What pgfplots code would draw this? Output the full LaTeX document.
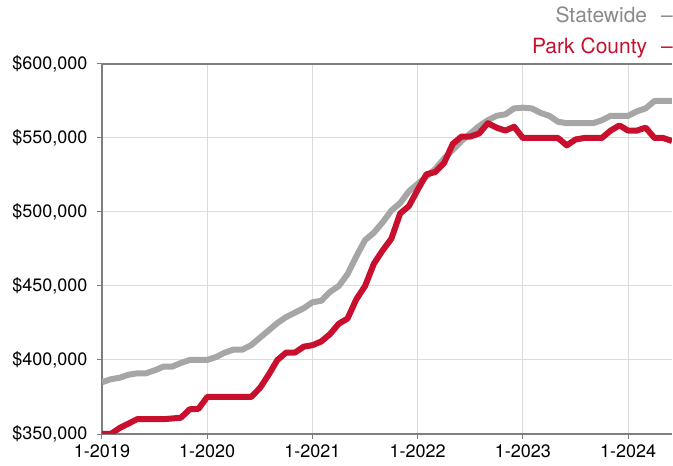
\documentclass[border=0pt]{standalone}
\usepackage{pgfplots}
\pgfplotsset{compat=1.18}
\usepackage{fontspec}
\setmainfont{TeX Gyre Heros}
\definecolor{stategray}{HTML}{A6A6A6}
\definecolor{parkred}{HTML}{C8102E}
\definecolor{legendgray}{HTML}{8A8A8A}
\definecolor{axisgray}{HTML}{7F7F7F}
\definecolor{gridgray}{HTML}{DCDCDC}
\pgfplotstableread{
m state park
0 385 350
1 387 350
2 388 354
3 390 357
4 391 360
5 391 360
6 393 360
7 395.5 360
8 395.5 360.5
9 398 361
10 400 366.7
11 400 367
12 400 375
13 402 375
14 405 375
15 407 375
16 407 375
17 410 375
18 415 381
19 420 390
20 425 400
21 429 405
22 432 405
23 435 409
24 439 410
25 440 412.5
26 446 417.5
27 450 424.5
28 458 428
29 470 441
30 481 450
31 486 465
32 493 474
33 501 482
34 506 499
35 514 504
36 519 515
37 524 525.5
38 529 527
39 536 533
40 542 546
41 548 551
42 553 551
43 558 553
44 562 560
45 565 557
46 566 555
47 570 557.6
48 570.5 550
49 570 550
50 567 550
51 565 550
52 561 550
53 560 545
54 560 549
55 560 550
56 560 550
57 562 550
58 565 555
59 565 558.5
60 565 555
61 568 555
62 570 557
63 575 550
64 575 550
65 575 548
}\datatable
\begin{document}
\begin{tikzpicture}
\begin{axis}[
  at={(0,0)}, anchor=south west,
  scale only axis,
  width=570bp, height=370bp,
  xmin=0, xmax=65,
  ymin=350, ymax=600,
  axis y line=left,
  axis x line=box,
  axis line style={-, draw=axisgray, line width=1.2bp},
  xtick={0,12,24,36,48,60},
  xticklabels={1-2019,1-2020,1-2021,1-2022,1-2023,1-2024},
  ytick={350,400,450,500,550,600},
  yticklabels={{\$350,000},{\$400,000},{\$450,000},{\$500,000},{\$550,000},{\$600,000}},
  tick align=outside,
  xtick pos=bottom, ytick pos=left,
  major tick length=5bp,
  tick style={draw=axisgray, line width=1bp},
  grid=major,
  grid style={draw=gridgray, line width=1bp},
  tick label style={font=\fontsize{18bp}{21bp}\selectfont, text=black},
  xticklabel style={yshift=-2bp},
  yticklabel style={xshift=-6bp},
]
\addplot[stategray, line width=6bp, line join=round] table[x=m, y=state] {\datatable};
\addplot[parkred, line width=6bp, line join=round] table[x=m, y=park] {\datatable};
\end{axis}
\node[anchor=base east, text=legendgray, font=\fontsize{21bp}{25bp}\selectfont, inner sep=0pt] at (571bp,411.3bp) {Statewide\hspace{14bp}–};
\node[anchor=base east, text=parkred, font=\fontsize{21bp}{25bp}\selectfont, inner sep=0pt] at (571bp,380bp) {Park County\hspace{14bp}–};
\pgfresetboundingbox
\useasboundingbox (-102bp,-32bp) rectangle (571bp,434bp);
\end{tikzpicture}
\end{document}
